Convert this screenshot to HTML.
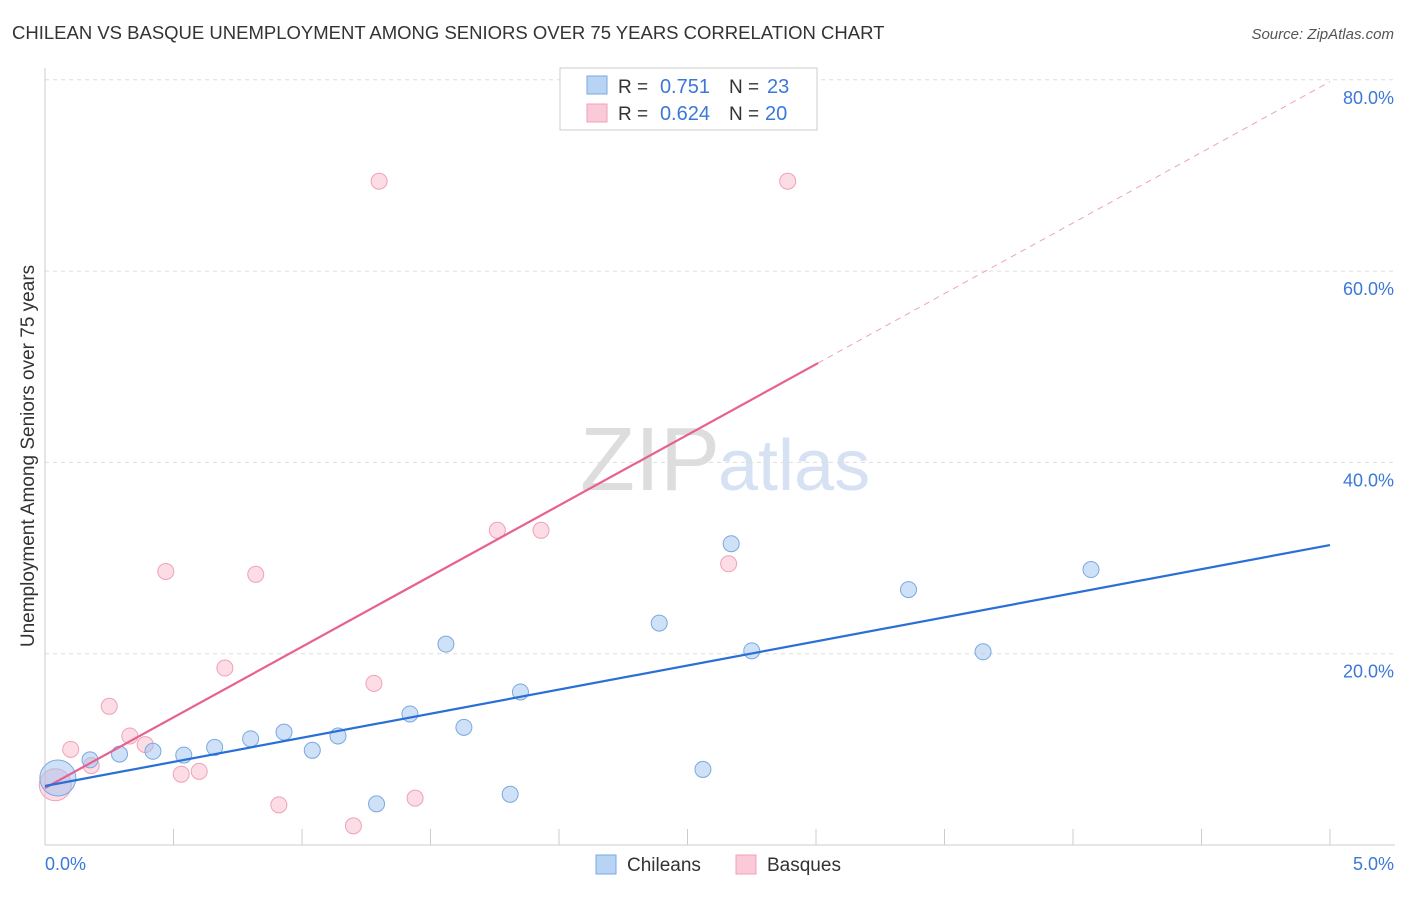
<!DOCTYPE html>
<html><head><meta charset="utf-8"><style>
body{margin:0;background:#fff;font-family:"Liberation Sans",sans-serif;}
svg text{font-family:"Liberation Sans",sans-serif;}
</style></head><body>
<svg width="1406" height="892" viewBox="0 0 1406 892">
<text x="12" y="39" font-size="18.5" fill="#333">CHILEAN VS BASQUE UNEMPLOYMENT AMONG SENIORS OVER 75 YEARS CORRELATION CHART</text>
<text x="1394" y="39" font-size="15" fill="#555" font-style="italic" text-anchor="end">Source: ZipAtlas.com</text>
<text x="720" y="490" font-size="90" fill="#ddd" font-family="Liberation Serif" text-anchor="end">ZIP</text>
<text x="718" y="490" font-size="72" fill="#d6e2f4">atlas</text>
<g id="grid"></g>
<g id="axes"></g>
<g id="marks"></g>
<text transform="translate(34,456) rotate(-90)" font-size="19" fill="#333" text-anchor="middle">Unemployment Among Seniors over 75 years</text>
<text x="45" y="870" font-size="18" fill="#3b78d8">0.0%</text>
<text x="1394" y="870" font-size="18" fill="#3b78d8" text-anchor="end">5.0%</text>
<g>
<rect x="560" y="68" width="257" height="62" fill="#fff" stroke="#ccc"/>
<rect x="587" y="76" width="20" height="18" fill="#b9d3f5" stroke="#7aa8e0"/>
<rect x="587" y="104" width="20" height="18" fill="#fbcad8" stroke="#f0a0b8"/>
<text x="618" y="93" font-size="19" fill="#333">R =</text>
<text x="710" y="93" font-size="20" fill="#3b78d8" text-anchor="end">0.751</text>
<text x="729" y="93" font-size="19" fill="#333">N =</text>
<text x="767" y="93" font-size="20" fill="#3b78d8">23</text>
<text x="618" y="120" font-size="19" fill="#333">R =</text>
<text x="710" y="120" font-size="20" fill="#3b78d8" text-anchor="end">0.624</text>
<text x="729" y="120" font-size="19" fill="#333">N =</text>
<text x="765" y="120" font-size="20" fill="#3b78d8">20</text>
</g>
<g>
<rect x="596" y="855" width="20" height="19" fill="#b9d3f5" stroke="#7aa8e0"/>
<text x="627" y="871" font-size="19" fill="#333">Chileans</text>
<rect x="736" y="855" width="20" height="19" fill="#fbcad8" stroke="#f0a0b8"/>
<text x="767" y="871" font-size="19" fill="#333">Basques</text>
</g>
</svg>
<script>
const chileanX=[0.05,0.175,0.29,0.42,0.54,0.66,0.80,0.93,1.04,1.14,1.29,1.42,1.63,1.56,1.81,1.85,2.39,2.56,2.67,2.75,3.36,3.65,4.07];
const chileanY=[7.0,8.9,9.5,9.8,9.4,10.2,11.1,11.8,9.9,11.4,4.3,13.7,12.3,21.0,5.3,16.0,23.2,7.9,31.5,20.3,26.7,20.2,28.8];
const basqueX=[0.04,0.10,0.18,0.25,0.33,0.39,0.47,0.53,0.60,0.70,0.82,0.91,1.20,1.28,1.30,1.44,1.76,1.93,2.66,2.89];
const basqueY=[6.3,10.0,8.3,14.5,11.4,10.5,28.6,7.4,7.7,18.5,28.3,4.2,2.0,16.9,69.4,4.9,32.9,32.9,29.4,69.4];
const yTicks=[20,40,60,80];
const yTickLabels=["20.0%","40.0%","60.0%","80.0%"];
const chileanTrend=[6.17,31.36];
const basqueTrend=[5.96,79.8];
const basqueSolidEnd=3.008;
const NS='http://www.w3.org/2000/svg';
const X=v=>45+v*257, Y=v=>845-v*9.565;
function mk(tag,attrs,parent){const e=document.createElementNS(NS,tag);for(const k in attrs)e.setAttribute(k,attrs[k]);document.getElementById(parent).appendChild(e);return e;}
yTicks.forEach((t,i)=>{
 const l=mk('line',{x1:45,x2:1395,y1:Y(t),y2:Y(t),stroke:'#ddd','stroke-dasharray':'4,4'},'grid');
 
 
 const tx=mk('text',{x:1394,y:Y(t)+24,'font-size':18,fill:'#3b78d8','text-anchor':'end'},'grid');
 tx.textContent=yTickLabels[i];
 
 
});
let ax=mk('line',{x1:45,x2:45,y1:68,y2:845,stroke:'#ccc'},'axes');


ax=mk('line',{x1:45,x2:1395,y1:845,y2:845,stroke:'#ccc'},'axes');


for(let v=0.5;v<=5.001;v+=0.5){
 const t=mk('line',{x1:X(v),x2:X(v),y1:829,y2:845,stroke:'#ccc'},'axes');
 
 
}
basqueX.forEach((x,i)=>{
 const c=mk('circle',{cx:X(x),cy:Y(basqueY[i]),r:i===0?16:8,fill:'rgba(248,180,200,0.45)',stroke:'#f0a0b8','stroke-width':1},'marks');
 
 
});
chileanX.forEach((x,i)=>{
 const c=mk('circle',{cx:X(x),cy:Y(chileanY[i]),r:i===0?18:8,fill:'rgba(160,196,240,0.5)',stroke:'#7aa8e0','stroke-width':1},'marks');
 
 
});
const bs=(basqueTrend[1]-basqueTrend[0])/5;
let ln=mk('line',{x1:X(basqueSolidEnd),y1:Y(basqueTrend[0]+bs*basqueSolidEnd),x2:X(5),y2:Y(basqueTrend[1]),stroke:'#f0a0b8','stroke-width':1,'stroke-dasharray':'6,5'},'marks');


ln=mk('line',{x1:X(0),y1:Y(basqueTrend[0]),x2:X(basqueSolidEnd),y2:Y(basqueTrend[0]+bs*basqueSolidEnd),stroke:'#e8608f','stroke-width':2.2},'marks');


ln=mk('line',{x1:X(0),y1:Y(chileanTrend[0]),x2:X(5),y2:Y(chileanTrend[1]),stroke:'#2a6fd6','stroke-width':2.2},'marks');


</script>
</body></html>
